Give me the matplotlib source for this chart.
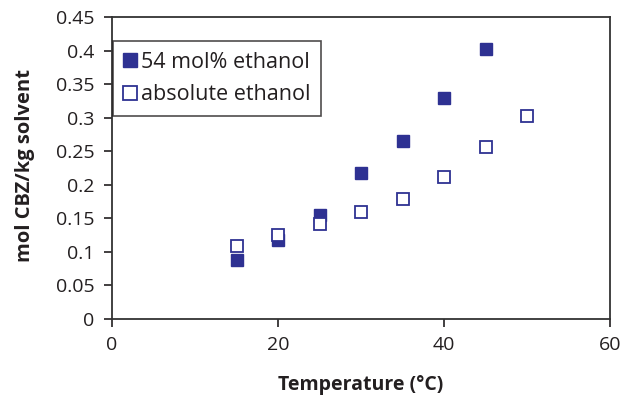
import matplotlib
matplotlib.use("Agg")
import matplotlib.pyplot as plt

plt.rcParams['font.family'] = ['Open Sans', 'DejaVu Sans']

temp_54 = [15, 20, 25, 30, 35, 40, 45]
sol_54 = [0.088, 0.117, 0.155, 0.218, 0.265, 0.329, 0.402]
temp_abs = [15, 20, 25, 30, 35, 40, 45, 50]
sol_abs = [0.109, 0.125, 0.142, 0.159, 0.179, 0.212, 0.257, 0.303]
xticks = [0, 20, 40, 60]
yticks = [0, 0.05, 0.1, 0.15, 0.2, 0.25, 0.3, 0.35, 0.4, 0.45]
ylabels = ["0", "0.05", "0.1", "0.15", "0.2", "0.25", "0.3", "0.35", "0.4", "0.45"]

navy = "#2e3192"
ink = "#231f20"

fig = plt.figure(figsize=(6.27, 3.97), dpi=100)
ax = fig.add_axes([0.1786, 0.1965, 0.7944, 0.7605])

ax.plot(temp_54, sol_54, linestyle="none", marker="s", markersize=9.3,
        color=navy, markeredgecolor=navy, label="54 mol% ethanol")
ax.plot(temp_abs, sol_abs, linestyle="none", marker="s", markersize=9.3,
        markerfacecolor="white", markeredgecolor=navy, markeredgewidth=1.3,
        label="absolute ethanol")

ax.set_xlim(0, 60)
ax.set_ylim(0, 0.45)
ax.set_xticks(xticks)
ax.set_yticks(yticks)
ax.set_yticklabels(ylabels)
ax.tick_params(direction="out", length=5.5, width=1.2, labelsize=14, pad=7,
               colors=ink)
for s in ax.spines.values():
    s.set_linewidth(1.3)
    s.set_color("#333333")

ax.set_xlabel("Temperature (\u00b0C)", fontsize=14, fontweight="bold",
              color=ink, labelpad=15)
ax.set_ylabel("mol CBZ/kg solvent", fontsize=14.5, fontweight="bold",
              color=ink, labelpad=16)
ax.yaxis.set_label_coords(-0.155, 0.51)

leg = ax.legend(loc="upper left", bbox_to_anchor=(0.002, 0.9215), fontsize=15.5,
                frameon=True, fancybox=False, handlelength=0.55, handletextpad=0.25,
                borderpad=0.5, labelspacing=0.55, borderaxespad=0.0,
                markerscale=1.02)
leg.get_frame().set_edgecolor(ink)
leg.get_frame().set_linewidth(1.2)
for t in leg.get_texts():
    t.set_color(ink)

fig.savefig("out.png", dpi=100)
